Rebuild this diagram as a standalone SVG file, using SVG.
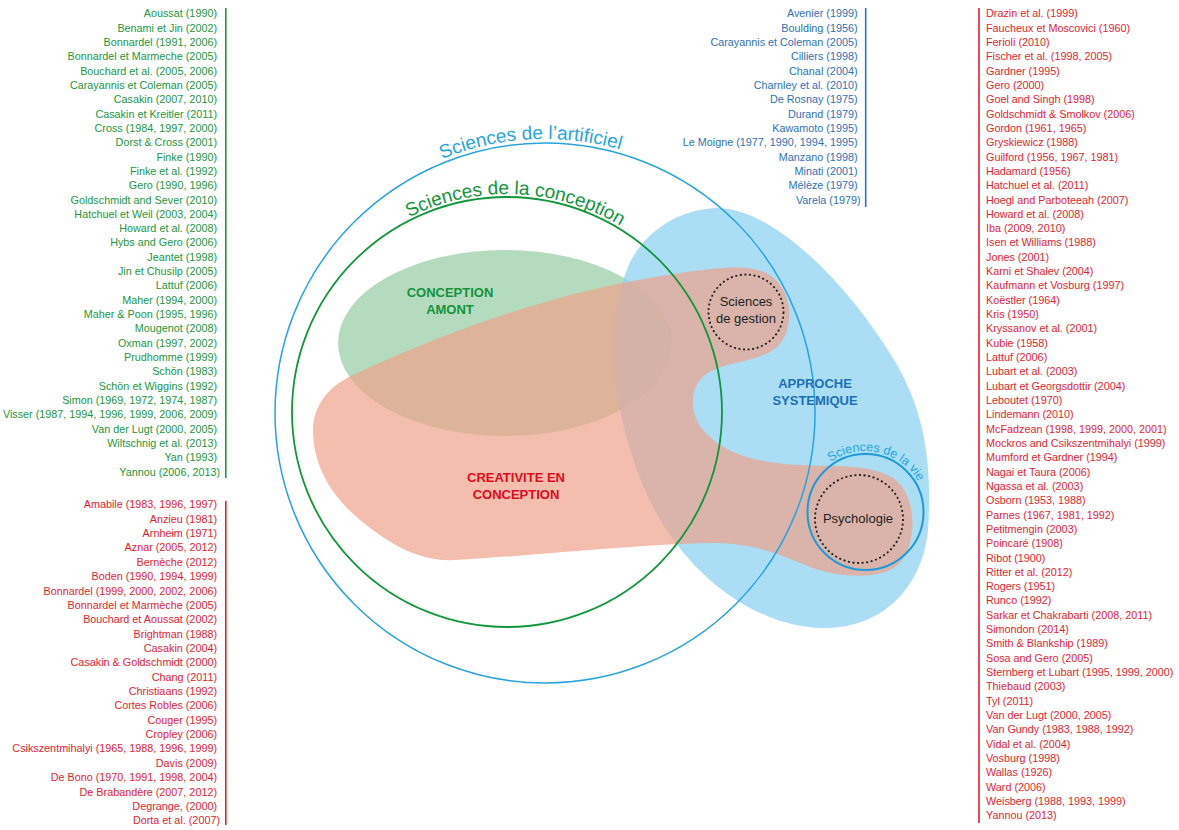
<svg xmlns="http://www.w3.org/2000/svg" width="1179" height="830" viewBox="0 0 1179 830">
<style>
.lst{font-family:"Liberation Sans",Arial,sans-serif;font-size:10.8px}
.gr{fill:#23963f}
.rd{fill:#e41e31}
.bl{fill:#2f71b4}
.bar{fill:none;stroke-width:1.6}
.lbl{font-family:"Liberation Sans",Arial,sans-serif;font-size:13px;font-weight:bold;text-anchor:middle}
.sub{font-family:"Liberation Sans",Arial,sans-serif;font-size:13px;fill:#231f20;text-anchor:middle}
.arc{font-family:"Liberation Sans",Arial,sans-serif;text-anchor:middle}
.dot{fill:none;stroke:#231f20;stroke-width:1.8;stroke-dasharray:2 2.6}
</style>
<defs>
<path id="arcBlue" d="M 271,413 A 274 274 0 0 1 819,413"/>
<path id="arcGreen" d="M 289,412 A 218 218 0 0 1 725,412"/>
<path id="arcVie" d="M 804.5,512 A 61 61 0 0 1 926.5,512"/>
</defs>
<rect width="1179" height="830" fill="#ffffff"/>

<g id="regions">
<g id="conception-amont-region">
<ellipse cx="505" cy="343" rx="167" ry="93" fill="#95cca4" fill-opacity="0.7"/>
</g>
<g id="approche-systemique-region">
<path d="M 717,208 C 772,208 845,280 893,358 C 927,413 932,470 928,530 C 922,590 880,630 820,628 C 750,625 680,570 645,490 C 615,420 600,330 630,262 C 650,225 685,209 717,208 Z" fill="#8fd3f0" fill-opacity="0.75"/>
</g>
<g id="creativite-region">
<path d="M 313,433 C 312,405 330,385 355,374 C 450,330 560,290 680,273 C 730,266 765,262 780,285 C 795,305 792,340 770,352 C 745,365 715,362 700,380 C 688,395 692,420 705,432 C 725,455 760,463 800,465 C 840,467 870,464 893,478 C 918,495 918,545 898,565 C 880,580 840,578 810,567 C 780,555 760,545 720,543 C 650,543 530,556 455,560 C 415,562 385,540 360,520 C 330,495 314,465 313,433 Z" fill="#eea28a" fill-opacity="0.7"/>
</g>
</g>

<g id="sciences-artificiel">
<circle cx="545" cy="413" r="270" fill="none" stroke="#29a3dd" stroke-width="1.5"/>
<text class="arc" font-size="19" fill="#27a5de"><textPath href="#arcBlue" startOffset="48.3%">Sciences de l’artificiel</textPath></text>
</g>

<g id="sciences-conception">
<circle cx="507" cy="412" r="215" fill="none" stroke="#12963c" stroke-width="1.8"/>
<text class="arc" font-size="19" fill="#12963c"><textPath href="#arcGreen" startOffset="51.3%">Sciences de la conception</textPath></text>
</g>

<g id="sciences-vie">
<circle cx="865.5" cy="512" r="58" fill="none" stroke="#1e9ad6" stroke-width="2"/>
<text class="arc" font-size="12.5" fill="#27a5de"><textPath href="#arcVie" startOffset="57%">Sciences de la vie</textPath></text>
</g>

<g id="sciences-gestion">
<circle cx="746" cy="312" r="37.5" class="dot"/>
<text class="sub" x="746" y="305.5">Sciences</text>
<text class="sub" x="746" y="322.5">de gestion</text>
</g>

<g id="psychologie">
<circle cx="859" cy="519" r="44" class="dot"/>
<text class="sub" x="858" y="523" font-size="13.5">Psychologie</text>
</g>

<g id="conception-amont">
<text class="lbl" fill="#13933a" x="450" y="296.5">CONCEPTION</text>
<text class="lbl" fill="#13933a" x="450" y="314">AMONT</text>
</g>

<g id="approche-systemique">
<text class="lbl" fill="#1d6fb6" x="815" y="387.5">APPROCHE</text>
<text class="lbl" fill="#1d6fb6" x="815" y="405">SYSTEMIQUE</text>
</g>

<g id="creativite-en-conception">
<text class="lbl" fill="#e30a1e" x="516" y="481.5">CREATIVITE EN</text>
<text class="lbl" fill="#e30a1e" x="516" y="499">CONCEPTION</text>
</g>

<g id="connectors"/>

<g id="list-green">
<line x1="225.8" y1="8" x2="225.8" y2="478" class="bar" stroke="#23963f"/>
<text class="lst gr" text-anchor="end">
<tspan x="220" y="17.3">Aoussat (1990)</tspan>
<tspan x="220" y="31.6">Benami et Jin (2002)</tspan>
<tspan x="220" y="45.9">Bonnardel (1991, 2006)</tspan>
<tspan x="220" y="60.3">Bonnardel et Marmeche (2005)</tspan>
<tspan x="220" y="74.6">Bouchard et al. (2005, 2006)</tspan>
<tspan x="220" y="88.9">Carayannis et Coleman (2005)</tspan>
<tspan x="220" y="103.2">Casakin (2007, 2010)</tspan>
<tspan x="220" y="117.5">Casakin et Kreitler (2011)</tspan>
<tspan x="220" y="131.9">Cross (1984, 1997, 2000)</tspan>
<tspan x="220" y="146.2">Dorst &amp; Cross (2001)</tspan>
<tspan x="220" y="160.5">Finke (1990)</tspan>
<tspan x="220" y="174.8">Finke et al. (1992)</tspan>
<tspan x="220" y="189.1">Gero (1990, 1996)</tspan>
<tspan x="220" y="203.5">Goldschmidt and Sever (2010)</tspan>
<tspan x="220" y="217.8">Hatchuel et Weil (2003, 2004)</tspan>
<tspan x="220" y="232.1">Howard et al. (2008)</tspan>
<tspan x="220" y="246.4">Hybs and Gero (2006)</tspan>
<tspan x="220" y="260.7">Jeantet (1998)</tspan>
<tspan x="220" y="275.1">Jin et Chusilp (2005)</tspan>
<tspan x="220" y="289.4">Lattuf (2006)</tspan>
<tspan x="220" y="303.7">Maher (1994, 2000)</tspan>
<tspan x="220" y="318.0">Maher &amp; Poon (1995, 1996)</tspan>
<tspan x="220" y="332.3">Mougenot (2008)</tspan>
<tspan x="220" y="346.7">Oxman (1997, 2002)</tspan>
<tspan x="220" y="361.0">Prudhomme (1999)</tspan>
<tspan x="220" y="375.3">Schön (1983)</tspan>
<tspan x="220" y="389.6">Schön et Wiggins (1992)</tspan>
<tspan x="220" y="403.9">Simon (1969, 1972, 1974, 1987)</tspan>
<tspan x="220" y="418.3">Visser (1987, 1994, 1996, 1999, 2006, 2009)</tspan>
<tspan x="220" y="432.6">Van der Lugt (2000, 2005)</tspan>
<tspan x="220" y="446.9">Wiltschnig et al. (2013)</tspan>
<tspan x="220" y="461.2">Yan (1993)</tspan>
<tspan x="220" y="475.5">Yannou (2006, 2013)</tspan>
</text>
</g>

<g id="list-red-left">
<line x1="225.8" y1="501" x2="225.8" y2="825" class="bar" stroke="#e41e31"/>
<text class="lst rd" text-anchor="end">
<tspan x="220" y="508.3">Amabile (1983, 1996, 1997)</tspan>
<tspan x="220" y="522.7">Anzieu (1981)</tspan>
<tspan x="220" y="537.0">Arnheim (1971)</tspan>
<tspan x="220" y="551.4">Aznar (2005, 2012)</tspan>
<tspan x="220" y="565.7">Bernèche (2012)</tspan>
<tspan x="220" y="580.1">Boden (1990, 1994, 1999)</tspan>
<tspan x="220" y="594.5">Bonnardel (1999, 2000, 2002, 2006)</tspan>
<tspan x="220" y="608.8">Bonnardel et Marmèche (2005)</tspan>
<tspan x="220" y="623.2">Bouchard et Aoussat (2002)</tspan>
<tspan x="220" y="637.5">Brightman (1988)</tspan>
<tspan x="220" y="651.9">Casakin (2004)</tspan>
<tspan x="220" y="666.3">Casakin &amp; Goldschmidt (2000)</tspan>
<tspan x="220" y="680.6">Chang (2011)</tspan>
<tspan x="220" y="695.0">Christiaans (1992)</tspan>
<tspan x="220" y="709.3">Cortes Robles (2006)</tspan>
<tspan x="220" y="723.7">Couger (1995)</tspan>
<tspan x="220" y="738.1">Cropley (2006)</tspan>
<tspan x="220" y="752.4">Csikszentmihalyi (1965, 1988, 1996, 1999)</tspan>
<tspan x="220" y="766.8">Davis (2009)</tspan>
<tspan x="220" y="781.1">De Bono (1970, 1991, 1998, 2004)</tspan>
<tspan x="220" y="795.5">De Brabandère (2007, 2012)</tspan>
<tspan x="220" y="809.9">Degrange, (2000)</tspan>
<tspan x="220" y="824.2">Dorta et al. (2007)</tspan>
</text>
</g>

<g id="list-blue">
<line x1="865.7" y1="8" x2="865.7" y2="207" class="bar" stroke="#2f71b4"/>
<text class="lst bl" text-anchor="end">
<tspan x="860.5" y="17.3">Avenier (1999)</tspan>
<tspan x="860.5" y="31.6">Boulding (1956)</tspan>
<tspan x="860.5" y="45.9">Carayannis et Coleman (2005)</tspan>
<tspan x="860.5" y="60.3">Cilliers (1998)</tspan>
<tspan x="860.5" y="74.6">Chanal (2004)</tspan>
<tspan x="860.5" y="88.9">Charnley et al. (2010)</tspan>
<tspan x="860.5" y="103.2">De Rosnay (1975)</tspan>
<tspan x="860.5" y="117.5">Durand (1979)</tspan>
<tspan x="860.5" y="131.9">Kawamoto (1995)</tspan>
<tspan x="860.5" y="146.2">Le Moigne (1977, 1990, 1994, 1995)</tspan>
<tspan x="860.5" y="160.5">Manzano (1998)</tspan>
<tspan x="860.5" y="174.8">Minati (2001)</tspan>
<tspan x="860.5" y="189.1">Mélèze (1979)</tspan>
<tspan x="860.5" y="203.5">Varela (1979)</tspan>
</text>
</g>

<g id="list-red-right">
<line x1="979" y1="8" x2="979" y2="823" class="bar" stroke="#e41e31"/>
<text class="lst rd">
<tspan x="986" y="17.3">Drazin et al. (1999)</tspan>
<tspan x="986" y="31.6">Faucheux et Moscovici (1960)</tspan>
<tspan x="986" y="45.9">Ferioli (2010)</tspan>
<tspan x="986" y="60.3">Fischer et al. (1998, 2005)</tspan>
<tspan x="986" y="74.6">Gardner (1995)</tspan>
<tspan x="986" y="88.9">Gero (2000)</tspan>
<tspan x="986" y="103.2">Goel and Singh (1998)</tspan>
<tspan x="986" y="117.5">Goldschmidt &amp; Smolkov (2006)</tspan>
<tspan x="986" y="131.9">Gordon (1961, 1965)</tspan>
<tspan x="986" y="146.2">Gryskiewicz (1988)</tspan>
<tspan x="986" y="160.5">Guilford (1956, 1967, 1981)</tspan>
<tspan x="986" y="174.8">Hadamard (1956)</tspan>
<tspan x="986" y="189.1">Hatchuel et al. (2011)</tspan>
<tspan x="986" y="203.5">Hoegl and Parboteeah (2007)</tspan>
<tspan x="986" y="217.8">Howard et al. (2008)</tspan>
<tspan x="986" y="232.1">Iba (2009, 2010)</tspan>
<tspan x="986" y="246.4">Isen et Williams (1988)</tspan>
<tspan x="986" y="260.7">Jones (2001)</tspan>
<tspan x="986" y="275.1">Karni et Shalev (2004)</tspan>
<tspan x="986" y="289.4">Kaufmann et Vosburg (1997)</tspan>
<tspan x="986" y="303.7">Koëstler (1964)</tspan>
<tspan x="986" y="318.0">Kris (1950)</tspan>
<tspan x="986" y="332.3">Kryssanov et al. (2001)</tspan>
<tspan x="986" y="346.7">Kubie (1958)</tspan>
<tspan x="986" y="361.0">Lattuf (2006)</tspan>
<tspan x="986" y="375.3">Lubart et al. (2003)</tspan>
<tspan x="986" y="389.6">Lubart et Georgsdottir (2004)</tspan>
<tspan x="986" y="403.9">Leboutet (1970)</tspan>
<tspan x="986" y="418.3">Lindemann (2010)</tspan>
<tspan x="986" y="432.6">McFadzean (1998, 1999, 2000, 2001)</tspan>
<tspan x="986" y="446.9">Mockros and Csikszentmihalyi (1999)</tspan>
<tspan x="986" y="461.2">Mumford et Gardner (1994)</tspan>
<tspan x="986" y="475.5">Nagai et Taura (2006)</tspan>
<tspan x="986" y="489.9">Ngassa et al. (2003)</tspan>
<tspan x="986" y="504.2">Osborn (1953, 1988)</tspan>
<tspan x="986" y="518.5">Parnes (1967, 1981, 1992)</tspan>
<tspan x="986" y="532.8">Petitmengin (2003)</tspan>
<tspan x="986" y="547.1">Poincaré (1908)</tspan>
<tspan x="986" y="561.5">Ribot (1900)</tspan>
<tspan x="986" y="575.8">Ritter et al. (2012)</tspan>
<tspan x="986" y="590.1">Rogers (1951)</tspan>
<tspan x="986" y="604.4">Runco (1992)</tspan>
<tspan x="986" y="618.7">Sarkar et Chakrabarti (2008, 2011)</tspan>
<tspan x="986" y="633.1">Simondon (2014)</tspan>
<tspan x="986" y="647.4">Smith &amp; Blankship (1989)</tspan>
<tspan x="986" y="661.7">Sosa and Gero (2005)</tspan>
<tspan x="986" y="676.0">Sternberg et Lubart (1995, 1999, 2000)</tspan>
<tspan x="986" y="690.3">Thiebaud (2003)</tspan>
<tspan x="986" y="704.7">Tyl (2011)</tspan>
<tspan x="986" y="719.0">Van der Lugt (2000, 2005)</tspan>
<tspan x="986" y="733.3">Van Gundy (1983, 1988, 1992)</tspan>
<tspan x="986" y="747.6">Vidal et al. (2004)</tspan>
<tspan x="986" y="761.9">Vosburg (1998)</tspan>
<tspan x="986" y="776.3">Wallas (1926)</tspan>
<tspan x="986" y="790.6">Ward (2006)</tspan>
<tspan x="986" y="804.9">Weisberg (1988, 1993, 1999)</tspan>
<tspan x="986" y="819.2">Yannou (2013)</tspan>
</text>
</g>
</svg>
